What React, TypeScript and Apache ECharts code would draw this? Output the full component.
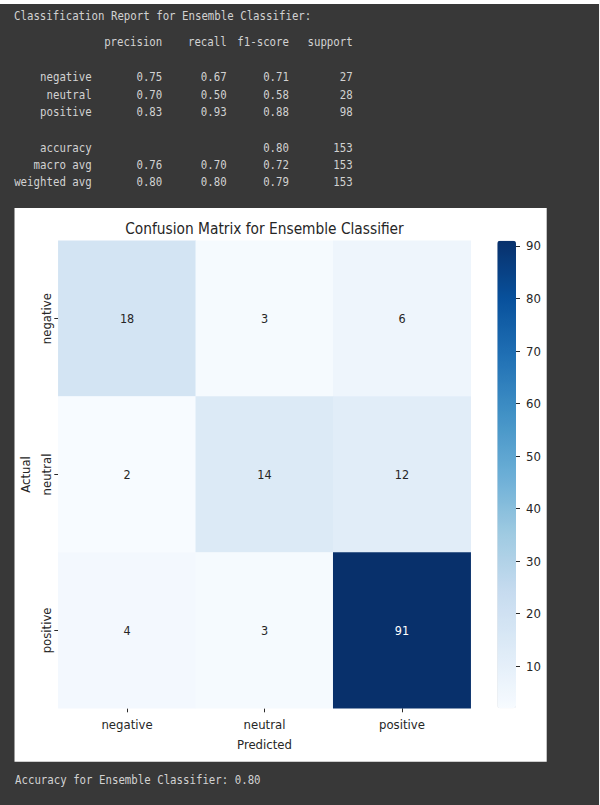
import React, { useEffect, useRef } from "react";
import * as echarts from "echarts";

// Class labels shared by the report and the confusion matrix
const classes = ["negative", "neutral", "positive"];

// Confusion matrix rows: actual class, columns: predicted class
const actualNegative = [18, 3, 6];
const actualNeutral = [2, 14, 12];
const actualPositive = [4, 3, 91];
const confusionRows = [actualNegative, actualNeutral, actualPositive];

// Classification report values
const reportHeaders = ["precision", "recall", "f1-score", "support"];
const precision = [0.75, 0.7, 0.83];
const recall = [0.67, 0.5, 0.93];
const f1Score = [0.71, 0.58, 0.88];
const support = [27, 28, 98];
const accuracy = 0.8;
const totalSupport = 153;
const macroAvg = [0.76, 0.7, 0.72];
const weightedAvg = [0.8, 0.8, 0.79];

// Colour bar tick labels
const colorbarTicks = [10, 20, 30, 40, 50, 60, 70, 80, 90];

// matplotlib "Blues" colour map stops
const blues = [
  "#f7fbff",
  "#deebf7",
  "#c6dbef",
  "#9ecae1",
  "#6baed6",
  "#4292c6",
  "#2171b5",
  "#08519c",
  "#08306b",
];

const SANS = "'DejaVu Sans Condensed', 'DejaVu Sans', sans-serif";
const MONO = "'DejaVu Sans Mono', 'Liberation Mono', monospace";
const CONSOLE_TEXT = "#d2d2d2";
const INK = "#262626";
const TICK = "#2a2a2a";

// Right edges of the report columns and the middles of its lines
const colRight = [91.7, 162.3, 226.7, 289, 352.7];
const lineY = {
  title: 16,
  header: 42,
  rows: [77, 94.5, 112],
  accuracy: 147.5,
  macro: 164.5,
  weighted: 182,
  footer: 780,
};

function mono(text: string, x: number, y: number, align: "left" | "right") {
  return {
    type: "text",
    x,
    y,
    scaleX: 0.86,
    z: 10,
    style: {
      text,
      fill: CONSOLE_TEXT,
      font: `12.5px ${MONO}`,
      align,
      textAlign: align,
      verticalAlign: "middle",
      textVerticalAlign: "middle",
    },
  };
}

function reportRow(label: string, cells: (string | null)[], y: number) {
  const out: any[] = [mono(label, colRight[0], y, "right")];
  cells.forEach((c, i) => {
    if (c !== null) out.push(mono(c, colRight[i + 1], y, "right"));
  });
  return out;
}

function buildReport() {
  const items: any[] = [];
  items.push(mono("Classification Report for Ensemble Classifier:", 14, lineY.title, "left"));
  reportHeaders.forEach((h, i) => items.push(mono(h, colRight[i + 1], lineY.header, "right")));
  classes.forEach((c, i) => {
    items.push(
      ...reportRow(
        c,
        [precision[i].toFixed(2), recall[i].toFixed(2), f1Score[i].toFixed(2), String(support[i])],
        lineY.rows[i]
      )
    );
  });
  items.push(...reportRow("accuracy", [null, null, accuracy.toFixed(2), String(totalSupport)], lineY.accuracy));
  items.push(
    ...reportRow(
      "macro avg",
      [...macroAvg.map((v) => v.toFixed(2)), String(totalSupport)],
      lineY.macro
    )
  );
  items.push(
    ...reportRow(
      "weighted avg",
      [...weightedAvg.map((v) => v.toFixed(2)), String(totalSupport)],
      lineY.weighted
    )
  );
  items.push(mono(`Accuracy for Ensemble Classifier: ${accuracy.toFixed(2)}`, 15, lineY.footer, "left"));
  return items;
}

export default function App() {
  const ref = useRef<HTMLDivElement>(null);

  useEffect(() => {
    if (!ref.current) return;
    const chart = echarts.init(ref.current, null, { renderer: "svg" });

    const all = confusionRows.flat();
    const vMin = Math.min(...all);
    const vMax = Math.max(...all);

    const cells: any[] = [];
    confusionRows.forEach((row, yi) => {
      row.forEach((v, xi) => {
        const t = (v - vMin) / (vMax - vMin);
        cells.push({
          value: [xi, yi, v],
          label: { color: t > 0.6 ? "#ffffff" : INK },
        });
      });
    });

    const grid = { left: 58.3, top: 240.7, width: 412.4, height: 467.6 };
    const bar = { left: 497.3, top: 240.7, width: 18.7, height: 467.6 };
    // scale for the colour bar ticks sits on the bar's right edge
    const barScale = { left: bar.left + bar.width, top: bar.top, width: 30, height: bar.height };

    chart.setOption({
      animation: false,
      backgroundColor: "#383838",
      graphic: [
        // notebook output strip edges
        { type: "rect", z: -5, shape: { x: 0, y: 0, width: 600, height: 4 }, style: { fill: "#ffffff" } },
        { type: "rect", z: -5, shape: { x: 599, y: 0, width: 1, height: 805 }, style: { fill: "#f4f4f4" } },
        // figure canvas
        { type: "rect", z: -5, shape: { x: 14.5, y: 208, width: 532.2, height: 553.7 }, style: { fill: "#ffffff" } },
        {
          type: "text",
          x: 264.5,
          y: 229,
          z: 10,
          style: {
            text: "Confusion Matrix for Ensemble Classifier",
            fill: INK,
            font: `15.3px ${SANS}`,
            align: "center",
            textAlign: "center",
            verticalAlign: "middle",
            textVerticalAlign: "middle",
          },
        },
        ...buildReport(),
      ],
      grid: [
        { ...grid, containLabel: false },
        { ...barScale, containLabel: false },
      ],
      xAxis: [
        {
          type: "category",
          gridIndex: 0,
          data: classes,
          name: "Predicted",
          nameLocation: "middle",
          nameGap: 30,
          nameTextStyle: { color: INK, fontSize: 13, fontFamily: SANS },
          axisLine: { show: false },
          axisTick: { show: true, alignWithLabel: true, length: 4, lineStyle: { color: TICK, width: 1 } },
          axisLabel: { color: INK, fontSize: 13, fontFamily: SANS, margin: 10, interval: 0 },
          splitLine: { show: false },
        },
        { type: "value", gridIndex: 1, show: false },
      ],
      yAxis: [
        {
          type: "category",
          gridIndex: 0,
          data: classes,
          inverse: true,
          name: "Actual",
          nameLocation: "middle",
          nameRotate: 90,
          nameGap: 22.5,
          nameTextStyle: { color: INK, fontSize: 13, fontFamily: SANS },
          axisLine: { show: false },
          axisTick: { show: true, alignWithLabel: true, length: 4, lineStyle: { color: TICK, width: 1 } },
          axisLabel: { color: INK, fontSize: 13, fontFamily: SANS, margin: 5, rotate: 90, interval: 0 },
          splitLine: { show: false },
        },
        {
          type: "value",
          gridIndex: 1,
          position: "left",
          min: vMin,
          max: vMax,
          z: 10,
          axisLine: { show: false },
          splitLine: { show: false },
          axisTick: {
            show: true,
            inside: true,
            customValues: colorbarTicks,
            length: 4,
            lineStyle: { color: TICK, width: 1 },
          },
          axisLabel: {
            inside: true,
            customValues: colorbarTicks,
            color: INK,
            fontSize: 13,
            fontFamily: SANS,
            margin: 10,
          },
        },
      ],
      visualMap: {
        type: "continuous",
        min: vMin,
        max: vMax,
        dimension: 2,
        seriesIndex: 0,
        orient: "vertical",
        left: bar.left,
        top: bar.top,
        itemWidth: bar.width,
        itemHeight: bar.height,
        padding: 0,
        calculable: false,
        hoverLink: false,
        inRange: { color: blues },
        textStyle: { color: "transparent" },
      },
      series: [
        {
          type: "heatmap",
          xAxisIndex: 0,
          yAxisIndex: 0,
          data: cells,
          label: { show: true, fontSize: 12.5, fontFamily: SANS, formatter: (p: any) => String(p.value[2]) },
          emphasis: { disabled: true },
          itemStyle: { borderWidth: 0 },
        },
      ],
    });

    return () => chart.dispose();
  }, []);

  return (
    <div
      ref={ref}
      style={{ position: "fixed", left: 0, top: 0, width: 600, height: 805 }}
    />
  );
}
